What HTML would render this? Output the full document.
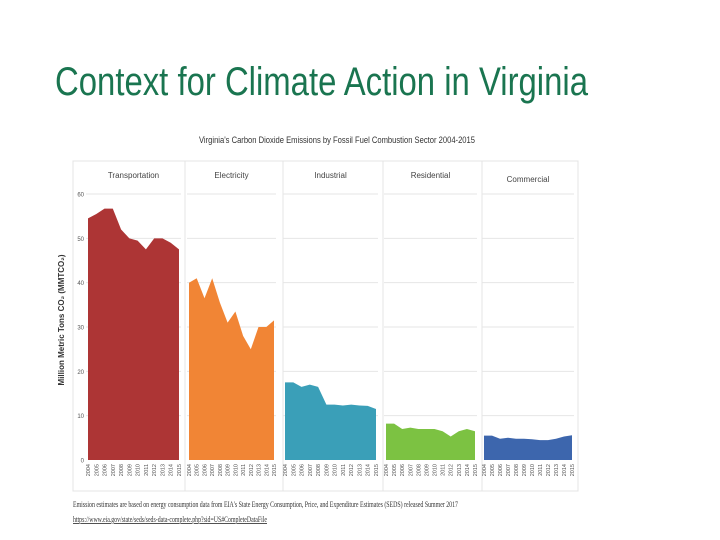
<!DOCTYPE html>
<html><head><meta charset="utf-8"><style>
html,body{margin:0;padding:0;background:#fff;}
svg{display:block;}
</style></head><body>
<svg id="s" width="720" height="540" xmlns="http://www.w3.org/2000/svg" font-family="Liberation Sans, sans-serif">
<text x="55" y="95" font-size="40" fill="#1a7550" textLength="533" lengthAdjust="spacingAndGlyphs">Context for Climate Action in Virginia</text>
<text x="337" y="143" font-size="9" fill="#333" text-anchor="middle" textLength="276" lengthAdjust="spacingAndGlyphs">Virginia's Carbon Dioxide Emissions by Fossil Fuel Combustion Sector 2004-2015</text>
<rect x="73" y="161" width="505" height="330" fill="none" stroke="#e4e4e4" stroke-width="1"/>
<g id="g"></g>
<text transform="translate(64,320) rotate(-90)" font-size="8" font-weight="bold" fill="#333" text-anchor="middle">Million Metric Tons CO₂ (MMTCO₂)</text>
<text x="73" y="507" font-size="8.5" fill="#333" font-family="Liberation Serif, serif" textLength="385" lengthAdjust="spacingAndGlyphs">Emission estimates are based on energy consumption data from EIA's State Energy Consumption, Price, and Expenditure Estimates (SEDS) released Summer 2017</text>
<text x="73" y="522" font-size="8.5" fill="#333" font-family="Liberation Serif, serif" text-decoration="underline" textLength="194" lengthAdjust="spacingAndGlyphs">https://www.eia.gov/state/seds/seds-data-complete.php?sid=US#CompleteDataFile</text>
</svg>
<script>
var g=document.getElementById('g');var h='';
var y0=460,k=4.433;
var panels=[
{n:'Transportation',x0:88,x1:179,c:'#ad3535',d:[54.5,55.5,56.7,56.7,52,50,49.5,47.5,50,50,49,47.5],ty:178},
{n:'Electricity',x0:189,x1:274,c:'#f18535',d:[40,41,36.5,41,35.5,31,33.5,28,25,30,30,31.5],ty:178},
{n:'Industrial',x0:285,x1:376,c:'#3a9fb8',d:[17.5,17.5,16.5,17,16.5,12.5,12.5,12.3,12.5,12.3,12.2,11.5],ty:178},
{n:'Residential',x0:386,x1:475,c:'#7cc242',d:[8.2,8.2,7,7.3,7,7,7,6.5,5.3,6.5,7,6.5],ty:178},
{n:'Commercial',x0:484,x1:572,c:'#3d66ad',d:[5.5,5.5,4.8,5,4.8,4.8,4.7,4.5,4.5,4.8,5.3,5.6],ty:182}];
[185,283,383,482].forEach(function(x){h+='<line x1="'+x+'" y1="161" x2="'+x+'" y2="491" stroke="#e4e4e4"/>';});
for(var v=0;v<=60;v+=10){var y=y0-v*k;
 h+='<text x="84" y="'+(y+2.5)+'" font-size="6" fill="#555" text-anchor="end">'+v+'</text>';
 if(v>0)panels.forEach(function(p){h+='<line x1="'+(p.x0-2)+'" y1="'+y+'" x2="'+(p.x1+2)+'" y2="'+y+'" stroke="#e6e6e6"/>';});}
panels.forEach(function(p){
 var pts=p.x0+','+y0;var st=(p.x1-p.x0)/11;
 p.d.forEach(function(v,i){pts+=' '+(p.x0+i*st).toFixed(1)+','+(y0-v*k).toFixed(1);});
 pts+=' '+p.x1+','+y0;
 h+='<polygon points="'+pts+'" fill="'+p.c+'"/>';
 h+='<text x="'+((p.x0+p.x1)/2)+'" y="'+p.ty+'" font-size="8" fill="#444" text-anchor="middle">'+p.n+'</text>';
 for(var i=0;i<12;i++){var x=p.x0+i*st+2;
  h+='<text transform="translate('+x.toFixed(1)+',464) rotate(-90)" font-size="5.5" fill="#555" text-anchor="end">'+(2004+i)+'</text>';}
});
g.innerHTML=h;
</script>
</body></html>
